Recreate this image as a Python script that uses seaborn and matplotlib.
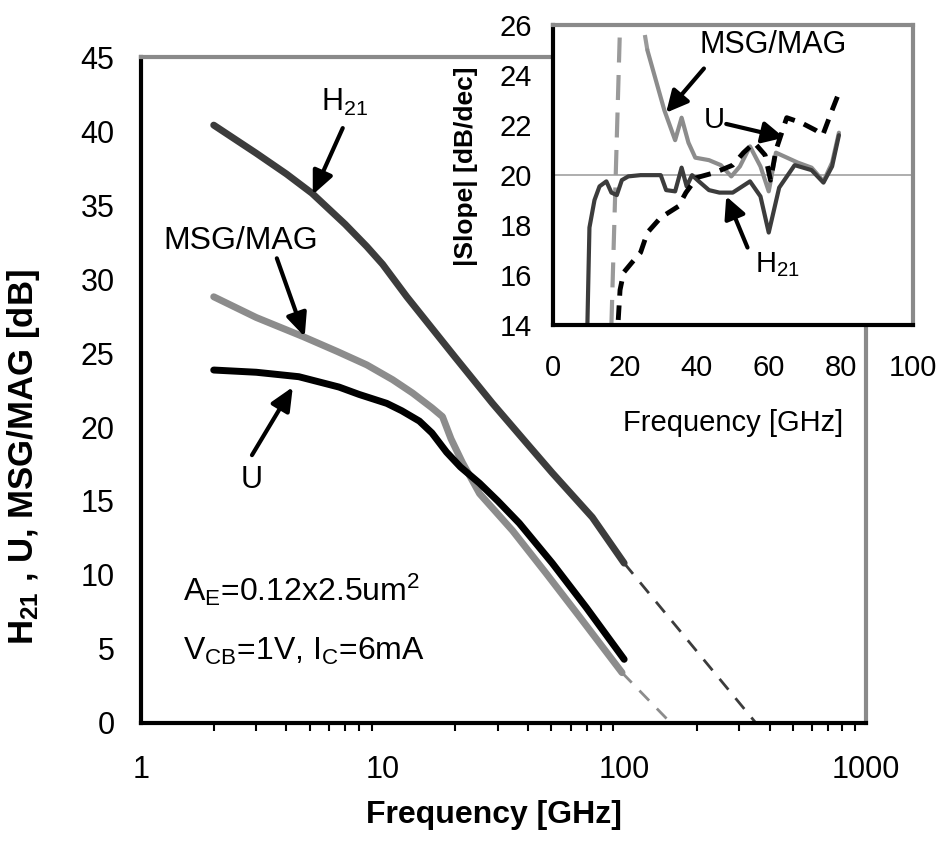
import matplotlib
matplotlib.use("Agg")
import matplotlib.pyplot as plt
import seaborn as sns
from matplotlib.ticker import FixedLocator, LogLocator, NullFormatter

# main plot: gain vs frequency (GHz, dB)
h21_f = [2, 3, 4, 5.1, 7, 8.6, 10, 12.6, 16.7, 20, 28.5, 40, 50.4, 73.8, 100]
h21_db = [40.4, 38.5, 37.1, 35.8, 33.7, 32.2, 31.0, 28.8, 26.3, 24.7, 21.6, 18.8,
          16.9, 13.9, 10.8]
h21_ext_f = [100, 351]
h21_ext_db = [10.8, 0.0]

msg_f = [2, 3, 4.7, 6.5, 8.6, 11, 13.3, 16, 17.7, 19.2, 21.4, 25.2, 34.5, 47.6, 65.2, 98]
msg_db = [28.8, 27.4, 26.1, 25.1, 24.2, 23.2, 22.3, 21.3, 20.7, 19.2, 17.6, 15.5,
          13.0, 10.1, 7.2, 3.4]
msg_ext_f = [98, 156]
msg_ext_db = [3.4, 0.0]

u_f = [2, 3, 4.5, 6.6, 8, 10.4, 12, 14.2, 16, 18.4, 21, 25.2, 30, 36.8, 50.4, 69.7, 100]
u_db = [23.85, 23.7, 23.4, 22.7, 22.2, 21.6, 21.1, 20.4, 19.6, 18.3, 17.3, 16.2,
        15.0, 13.5, 10.8, 7.8, 4.3]

# inset: |slope| in dB/dec vs frequency
ins_h21_f = [9.6, 10.2, 11.6, 13.0, 14.9, 16.3, 17.8, 19.2, 21.0, 24.4, 30.0, 31.5,
             34.0, 35.8, 37.2, 38.7, 40.6, 43.4, 46.3, 50.0, 54.8, 57.7, 60.0, 62.9,
             67.2, 71.9, 75.2, 77.6, 79.5]
ins_h21_s = [13.8, 17.9, 19.0, 19.55, 19.75, 19.3, 19.2, 19.8, 19.95, 20.0, 20.0, 19.4,
             19.35, 20.3, 19.55, 20.0, 19.75, 19.4, 19.3, 19.3, 19.75, 19.15, 17.7, 19.5,
             20.4, 20.2, 19.7, 20.35, 21.6]
ins_msg_dash_f = [16.0, 19.0, 24.0, 26.3]
ins_msg_dash_s = [12.5, 27.5, 27.0, 25.0]
ins_msg_f = [26.3, 31.0, 34.0, 35.8, 37.7, 39.6, 43.4, 46.7, 49.6, 52.0, 54.8, 57.7,
             60.0, 62.0, 64.3, 68.1, 71.9, 75.2, 77.6, 79.5]
ins_msg_s = [25.0, 22.6, 21.4, 22.3, 21.3, 20.7, 20.6, 20.4, 19.95, 20.35, 21.15, 20.35,
             19.35, 20.9, 20.75, 20.5, 20.3, 19.75, 20.5, 21.7]
ins_u_f = [18.2, 18.7, 19.7, 22.0, 24.4, 26.3, 30.0, 34.9, 37.0, 40.0, 45.0, 50.0,
           53.0, 56.0, 59.0, 60.5, 62.0, 65.0, 69.0, 73.0, 75.0, 77.6, 79.5]
ins_u_s = [14.2, 15.4, 16.1, 16.5, 16.9, 17.7, 18.3, 18.75, 19.3, 19.9, 20.1, 20.4,
           20.9, 21.3, 20.8, 19.8, 21.0, 22.3, 22.1, 21.8, 21.6, 22.6, 23.3]

main_yticks = [0, 5, 10, 15, 20, 25, 30, 35, 40, 45]
main_xticks = [1, 10, 100, 1000]
ins_xticks = [0, 20, 40, 60, 80, 100]
ins_yticks = [14, 16, 18, 20, 22, 24, 26]

sns.set_style("white")
plt.rcParams["font.family"] = ["Liberation Sans", "DejaVu Sans"]
plt.rcParams["mathtext.fontset"] = "custom"
plt.rcParams["mathtext.rm"] = "Liberation Sans"
plt.rcParams["mathtext.it"] = "Liberation Sans:italic"
plt.rcParams["mathtext.bf"] = "Liberation Sans:bold"
plt.rcParams["text.color"] = "black"
plt.rcParams["axes.labelcolor"] = "black"
plt.rcParams["xtick.color"] = "black"
plt.rcParams["ytick.color"] = "black"

DARK = "#3c3c3c"
GREY = "#8c8c8c"
EDGE = "#8a8a8a"

fig = plt.figure(figsize=(9.4, 8.44), dpi=100)
ax = fig.add_axes([0.150, 0.1434, 0.771, 0.789])
ax.set_facecolor("white")

sns.lineplot(x=h21_f, y=h21_db, ax=ax, color=DARK, lw=5, sort=False, estimator=None)
sns.lineplot(x=h21_ext_f, y=h21_ext_db, ax=ax, color=DARK, lw=2, ls=(0, (5, 4)),
             sort=False, estimator=None)
sns.lineplot(x=msg_f, y=msg_db, ax=ax, color=GREY, lw=5, sort=False, estimator=None)
sns.lineplot(x=msg_ext_f, y=msg_ext_db, ax=ax, color=GREY, lw=2, ls=(0, (5, 4)),
             sort=False, estimator=None)
sns.lineplot(x=u_f, y=u_db, ax=ax, color="black", lw=5, sort=False, estimator=None)

ax.set_xscale("log")
ax.set_xlim(1, 1000)
ax.set_ylim(0, 45)
ax.xaxis.set_major_locator(FixedLocator(main_xticks))
ax.set_xticklabels([str(t) for t in main_xticks])
ax.xaxis.set_minor_locator(LogLocator(base=10, subs=range(2, 10)))
ax.xaxis.set_minor_formatter(NullFormatter())
ax.set_yticks(main_yticks)
ax.tick_params(axis="both", which="major", direction="out", length=9, width=2,
               labelsize=22, color="black")
ax.tick_params(axis="x", which="major", pad=14)
ax.tick_params(axis="y", which="major", pad=10)
ax.tick_params(axis="x", which="minor", direction="out", length=6, width=1.5,
               bottom=True, color="black")

for side in ["left", "bottom"]:
    ax.spines[side].set_color("black")
    ax.spines[side].set_linewidth(3)
for side in ["top", "right"]:
    ax.spines[side].set_color(EDGE)
    ax.spines[side].set_linewidth(3)

ax.set_xlabel("Frequency [GHz]", fontsize=23, fontweight="bold")
ax.set_ylabel(r"$\mathbf{H_{21}}$ , U, MSG/MAG [dB]", fontsize=25, fontweight="bold")
ax.xaxis.set_label_coords(0.487, -0.116)
ax.yaxis.set_label_coords(-0.136, 0.40)

arrow = dict(arrowstyle="-|>,head_length=1.0,head_width=0.45", lw=3, color="black",
             mutation_scale=14, shrinkA=0, shrinkB=0)
ax.text(6.97, 41.9, r"H$_{\mathrm{21}}$", fontsize=22, ha="center", va="center")
ax.annotate("", xy=(5.14, 35.7), xytext=(6.84, 40.2), arrowprops=arrow)
ax.text(2.59, 32.6, "MSG/MAG", fontsize=23, ha="center", va="center")
ax.annotate("", xy=(4.76, 26.1), xytext=(3.65, 31.4), arrowprops=arrow)
ax.text(2.88, 16.4, "U", fontsize=22, ha="center", va="center")
ax.annotate("", xy=(4.25, 22.7), xytext=(2.88, 18.1), arrowprops=arrow)
ax.text(1.49, 9.0, r"A$_{\mathrm{E}}$=0.12x2.5um$^{\mathrm{2}}$", fontsize=23,
        ha="left", va="center")
ax.text(1.49, 4.8, r"V$_{\mathrm{CB}}$=1V, I$_{\mathrm{C}}$=6mA", fontsize=23,
        ha="left", va="center")

# inset
ax2 = fig.add_axes([0.588, 0.615, 0.383, 0.355])
ax2.set_facecolor("white")
ax2.axhline(20, color="#a8a8a8", lw=1.3, zorder=1)
sns.lineplot(x=ins_msg_dash_f, y=ins_msg_dash_s, ax=ax2, color="#9a9a9a", lw=3,
             ls=(0, (6, 3)), sort=False, estimator=None)
sns.lineplot(x=ins_msg_f, y=ins_msg_s, ax=ax2, color=GREY, lw=3, sort=False,
             estimator=None)
sns.lineplot(x=ins_h21_f, y=ins_h21_s, ax=ax2, color=DARK, lw=3, sort=False,
             estimator=None)
sns.lineplot(x=ins_u_f, y=ins_u_s, ax=ax2, color="black", lw=3.5, ls=(0, (3, 2)),
             sort=False, estimator=None)

ax2.set_xlim(0, 100)
ax2.set_ylim(14, 26)
ax2.set_xticks(ins_xticks)
ax2.set_yticks(ins_yticks)
ax2.tick_params(axis="both", direction="out", length=9, width=2, labelsize=21,
                color="black")
ax2.tick_params(axis="x", pad=12)
ax2.tick_params(axis="y", pad=6)
for side in ["left", "bottom"]:
    ax2.spines[side].set_color("black")
    ax2.spines[side].set_linewidth(3)
for side in ["top", "right"]:
    ax2.spines[side].set_color(EDGE)
    ax2.spines[side].set_linewidth(3)
ax2.set_xlabel("Frequency [GHz]", fontsize=21)
ax2.set_ylabel("|Slope| [dB/dec]", fontsize=19, fontweight="bold")
ax2.xaxis.set_label_coords(0.5, -0.28)
ax2.yaxis.set_label_coords(-0.208, 0.53)

arrow2 = dict(arrowstyle="-|>,head_length=1.0,head_width=0.5", lw=3, color="black",
              mutation_scale=13, shrinkA=0, shrinkB=0)
ax2.text(61.3, 25.2, "MSG/MAG", fontsize=22, ha="center", va="center")
ax2.annotate("", xy=(31.5, 22.5), xytext=(42.0, 24.27), arrowprops=arrow2)
ax2.text(45.0, 22.2, "U", fontsize=21, ha="center", va="center")
ax2.annotate("", xy=(64.3, 21.5), xytext=(48.2, 22.05), arrowprops=arrow2)
ax2.text(62.4, 16.4, r"H$_{\mathrm{21}}$", fontsize=21, ha="center", va="center")
ax2.annotate("", xy=(48.2, 19.15), xytext=(54.1, 17.1), arrowprops=arrow2)

fig.savefig("out.png", dpi=100, facecolor="white")
